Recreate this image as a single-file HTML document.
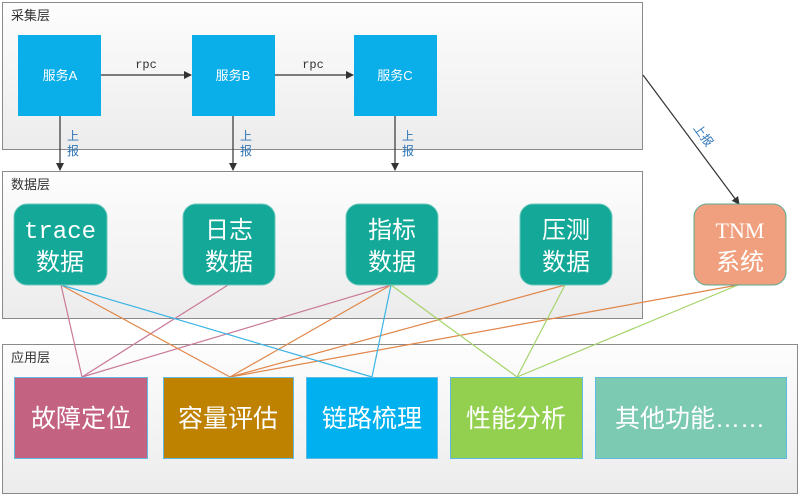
<!DOCTYPE html>
<html><head><meta charset="utf-8"><style>
body{margin:0;width:800px;height:496px;background:#fff;overflow:hidden}
svg{display:block}
text{font-family:"Liberation Sans","Noto Sans CJK SC",sans-serif}
</style></head><body>
<svg width="800" height="496" viewBox="0 0 800 496">
<defs>
<linearGradient id="g" x1="0" y1="0" x2="0" y2="1"><stop offset="0" stop-color="#fdfdfd"/><stop offset="1" stop-color="#ececec"/></linearGradient>
<marker id="a" markerWidth="8" markerHeight="8" refX="7" refY="4" orient="auto" markerUnits="userSpaceOnUse"><path d="M0,0 L8,4 L0,8 Z" fill="#333"/></marker>
</defs>
<!-- layers -->
<rect x="2.5" y="2.5" width="640" height="147" fill="url(#g)" stroke="#8a8a8a"/>
<rect x="2.5" y="171.5" width="640" height="147" fill="url(#g)" stroke="#8a8a8a"/>
<rect x="2.5" y="344.5" width="795" height="149" fill="url(#g)" stroke="#8a8a8a"/>
<text x="11" y="20" font-size="13" fill="#333">采集层</text>
<text x="11" y="189" font-size="13" fill="#333">数据层</text>
<text x="11" y="362" font-size="13" fill="#333">应用层</text>
<!-- services -->
<g fill="#0aaee8">
<rect x="18" y="35" width="83" height="81"/>
<rect x="192" y="35" width="83" height="81"/>
<rect x="354" y="35" width="83" height="81"/>
</g>
<g font-size="13" fill="#fff" text-anchor="middle">
<text x="60" y="80">服务A</text><text x="233" y="80">服务B</text><text x="395" y="80">服务C</text>
</g>
<g stroke="#333" stroke-width="1.2" fill="none" marker-end="url(#a)">
<line x1="101" y1="75" x2="191" y2="75"/>
<line x1="275" y1="75" x2="353" y2="75"/>
<line x1="60" y1="116" x2="60" y2="170"/>
<line x1="233" y1="116" x2="233" y2="170"/>
<line x1="395" y1="116" x2="395" y2="170"/>
<line x1="643" y1="75" x2="739" y2="204"/>
</g>
<g font-family="Liberation Mono,monospace" font-size="12" fill="#333" text-anchor="middle">
<text x="146" y="68" style="font-family:'Liberation Mono',monospace">rpc</text>
<text x="313" y="68" style="font-family:'Liberation Mono',monospace">rpc</text>
</g>
<g font-size="12" fill="#2e75b6">
<text x="67" y="140">上</text><text x="67" y="155">报</text>
<text x="240" y="140">上</text><text x="240" y="155">报</text>
<text x="402" y="140">上</text><text x="402" y="155">报</text>
<text x="0" y="0" transform="translate(693,128) rotate(54)">上报</text>
</g>
<!-- connector lines -->
<g stroke-width="1.2" fill="none">
<line x1="61" y1="285" x2="82" y2="377" stroke="#c9799a"/>
<line x1="228" y1="285" x2="82" y2="377" stroke="#c9799a"/>
<line x1="391" y1="285" x2="82" y2="377" stroke="#c9799a"/>
<line x1="61" y1="285" x2="230" y2="377" stroke="#e0874a"/>
<line x1="391" y1="285" x2="230" y2="377" stroke="#e0874a"/>
<line x1="565" y1="285" x2="230" y2="377" stroke="#e0874a"/>
<line x1="738" y1="285" x2="230" y2="377" stroke="#e0874a"/>
<line x1="61" y1="285" x2="372" y2="377" stroke="#3bb4e6"/>
<line x1="391" y1="285" x2="372" y2="377" stroke="#3bb4e6"/>
<line x1="391" y1="285" x2="517" y2="377" stroke="#a5d46a"/>
<line x1="565" y1="285" x2="517" y2="377" stroke="#a5d46a"/>
<line x1="738" y1="285" x2="517" y2="377" stroke="#a5d46a"/>
</g>
<!-- data nodes -->
<g fill="#13a897" stroke="#6cc8bc">
<rect x="14" y="204" width="93" height="81" rx="13"/>
<rect x="183" y="204" width="92" height="81" rx="13"/>
<rect x="346" y="204" width="92" height="81" rx="13"/>
<rect x="520" y="204" width="92" height="81" rx="13"/>
</g>
<rect x="694" y="204" width="92" height="81" rx="13" fill="#f0a07e" stroke="#5aa88f"/>
<g font-size="24" fill="#fff" text-anchor="middle">
<text x="60" y="238" style="font-family:'Liberation Mono',monospace">trace</text><text x="60" y="270">数据</text>
<text x="229" y="238">日志</text><text x="229" y="270">数据</text>
<text x="392" y="238">指标</text><text x="392" y="270">数据</text>
<text x="566" y="238">压测</text><text x="566" y="270">数据</text>
<text x="740" y="238" style="font-family:'Liberation Serif',serif" font-size="22">TNM</text><text x="740" y="270">系统</text>
</g>
<!-- app boxes -->
<g stroke="#5fb9e0" stroke-width="1">
<rect x="14.5" y="377.5" width="133" height="81" fill="#c46282"/>
<rect x="163.5" y="377.5" width="130" height="81" fill="#bf8100"/>
<rect x="306.5" y="377.5" width="131" height="81" fill="#00b0ef"/>
<rect x="450.5" y="377.5" width="132" height="81" fill="#93d04f"/>
<rect x="595.5" y="377.5" width="191" height="81" fill="#7ccab2"/>
</g>
<g font-size="25" fill="#fff" text-anchor="middle">
<text x="81" y="427">故障定位</text>
<text x="228" y="427">容量评估</text>
<text x="372" y="427">链路梳理</text>
<text x="516" y="427">性能分析</text>
<text x="690" y="427">其他功能……</text>
</g>
</svg>
</body></html>
